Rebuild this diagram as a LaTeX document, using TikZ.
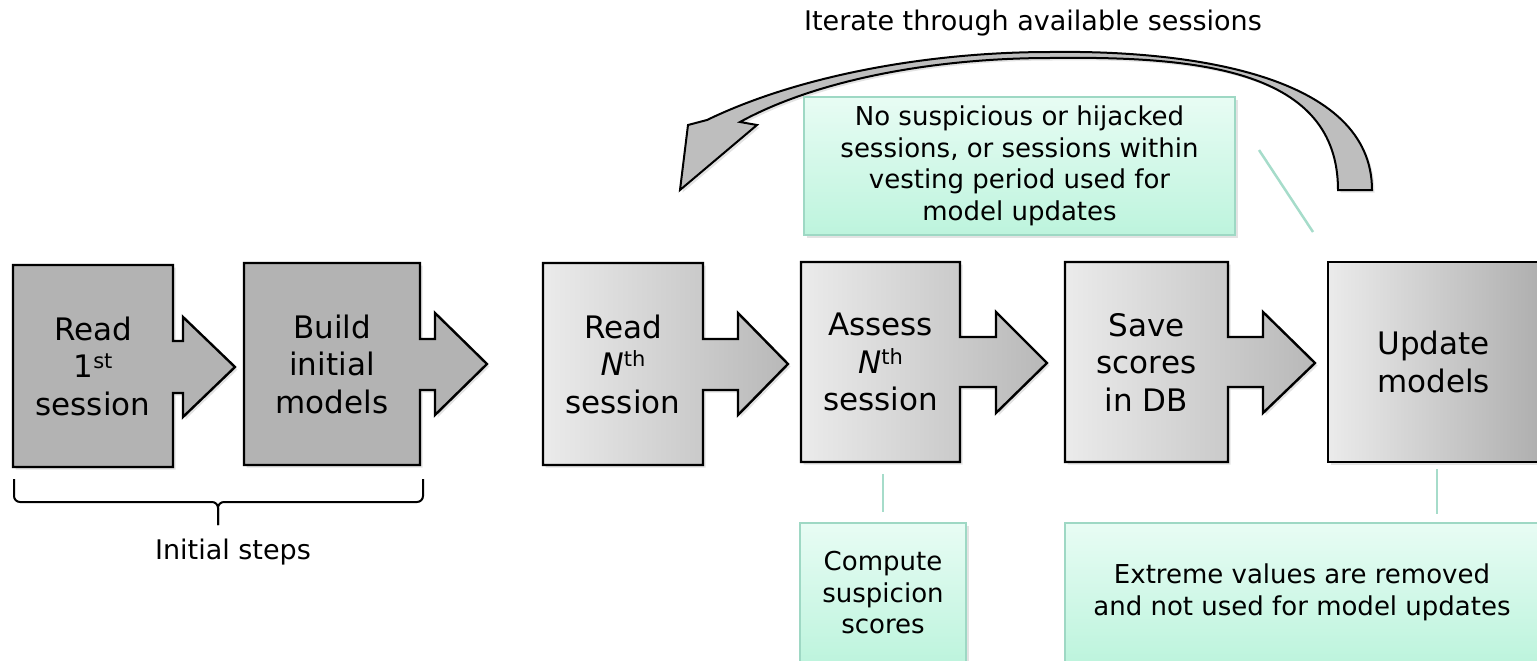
\documentclass[tikz,border=0pt]{standalone}
\usepackage{fontspec}
\setmainfont{DejaVu Sans}
\usetikzlibrary{shadows}

\definecolor{boxdark}{HTML}{B3B3B3}
\definecolor{shadelight}{HTML}{EBEBEB}
\definecolor{shadedark}{HTML}{B8B8B8}
\definecolor{updatedark}{HTML}{AFAFAF}
\definecolor{minttop}{HTML}{E8FCF4}
\definecolor{mintbot}{HTML}{BDF4DD}
\definecolor{mintedge}{HTML}{9ED8C4}
\definecolor{mintline}{HTML}{A6DCCA}
\definecolor{loopgray}{HTML}{BEBEBE}

% small raised ordinal suffix
\newcommand\ordsup[1]{\raisebox{0.28em}{\fontsize{21}{21}\selectfont #1}}

\begin{document}
\begin{tikzpicture}[x=1pt,y=-1pt,
  softshadow/.style={drop shadow={shadow xshift=2.5pt,shadow yshift=-2.5pt,opacity=0.22}},
  stepshape/.style={draw=black,line width=2.4pt,line join=miter,softshadow},
  solidstep/.style={stepshape,fill=boxdark},
  shadedstep/.style={stepshape,left color=shadelight,right color=shadedark},
  steptext/.style={inner sep=0pt,outer sep=0pt,align=center,
    font=\fontsize{31}{37.5}\selectfont},
  notebox/.style={draw=mintedge,line width=1.5pt,top color=minttop,bottom color=mintbot,
    inner sep=0pt,outer sep=0pt,align=center,font=\fontsize{26}{31.5}\selectfont,softshadow},
  conn/.style={draw=mintline,line width=2.5pt},
  plainlabel/.style={inner sep=0pt,font=\fontsize{27}{32}\selectfont}
]
\useasboundingbox (0,0) rectangle (1537,661);
\clip (0,0) rectangle (1537,661);

% ---- initial steps (solid grey) ----
\path[solidstep] (13,265) -- (173,265) -- (173,341) -- (183,341) -- (183,317) -- (235,367)
  -- (183,417) -- (183,393) -- (173,393) -- (173,467) -- (13,467) -- cycle;
\path[solidstep] (244,263) -- (420,263) -- (420,339) -- (435,339) -- (435,313) -- (487,364)
  -- (435,415) -- (435,390) -- (420,390) -- (420,465) -- (244,465) -- cycle;

% ---- per-session steps (shaded grey) ----
\path[shadedstep] (543,263) -- (703,263) -- (703,339) -- (738,339) -- (738,313) -- (788,364)
  -- (738,415) -- (738,390) -- (703,390) -- (703,465) -- (543,465) -- cycle;
\path[shadedstep] (801,262) -- (960,262) -- (960,337) -- (996,337) -- (996,312) -- (1047,363)
  -- (996,413) -- (996,387) -- (960,387) -- (960,462) -- (801,462) -- cycle;
\path[shadedstep] (1065,262) -- (1228,262) -- (1228,337) -- (1263,337) -- (1263,312) -- (1315,363)
  -- (1263,413) -- (1263,387) -- (1228,387) -- (1228,462) -- (1065,462) -- cycle;
\path[stepshape,left color=shadelight,right color=updatedark] (1328,262) rectangle (1540,462);

% ---- step labels ----
\node[steptext,minimum width=160,minimum height=202] (readfirst) at (93,366)
  {Read\\1\ordsup{st}\\session};
\node[steptext,minimum width=176,minimum height=202] (build) at (332,364)
  {Build\\initial\\models};
\node[steptext,minimum width=160,minimum height=202] (readnth) at (623,364)
  {Read\\\textit{N}\ordsup{th}\\session};
\node[steptext,minimum width=159,minimum height=200] (assess) at (880.5,362)
  {Assess\\\textit{N}\ordsup{th}\\session};
\node[steptext,minimum width=163,minimum height=200] (save) at (1146.5,362)
  {Save\\scores\\in DB};
\node[steptext,minimum width=211,minimum height=200] (update) at (1433.5,362)
  {Update\\models};

% ---- brace under the initial steps ----
\draw[line width=2pt,rounded corners=6pt] (14,479) -- (14,502) -- (218,502) -- (218,525);
\draw[line width=2pt,rounded corners=6pt] (423,479) -- (423,502) -- (218,502) -- (218,525);
\node[plainlabel,anchor=base] (initlabel) at (233,559) {Initial steps};

% ---- loop-back arrow ----
\path[draw=black,line width=2pt,line join=miter,fill=loopgray,softshadow]
  (1372,190) .. controls (1372,75) and (1190,50) .. (1050,52)
  .. controls (930,52) and (800,75) .. (707,120)
  -- (688,125) -- (680,190) -- (757,125) -- (740,122)
  .. controls (820,78) and (940,58) .. (1050,58)
  .. controls (1200,56) and (1338,70) .. (1338,190) -- cycle;
\node[plainlabel,anchor=base] (iterlabel) at (1033,31) {Iterate through available sessions};

% ---- notes ----
\node[notebox,minimum width=431,minimum height=138] (vesting) at (1019.5,166)
  {No suspicious or hijacked\\sessions, or sessions within\\vesting period used for\\model updates};
\node[notebox,minimum width=166,minimum height=140] (compute) at (883,593)
  {Compute\\suspicion\\scores};
\node[notebox,minimum width=474,minimum height=139] (extreme) at (1302,592.5)
  {Extreme values are removed\\and not used for model updates};

% ---- note connectors ----
\draw[conn,shorten <=12pt,shorten >=11pt] (assess.south -| compute.north) -- (compute.north);
\draw[conn,shorten <=7pt,shorten >=9pt] ([xshift=3.5pt]update.south) -- ([xshift=3.5pt]update.south |- extreme.north);
\coordinate (tickA) at (1259,150);
\coordinate (tickB) at (1313,232);
\draw[conn] (tickA) -- (tickB);
\end{tikzpicture}
\end{document}
